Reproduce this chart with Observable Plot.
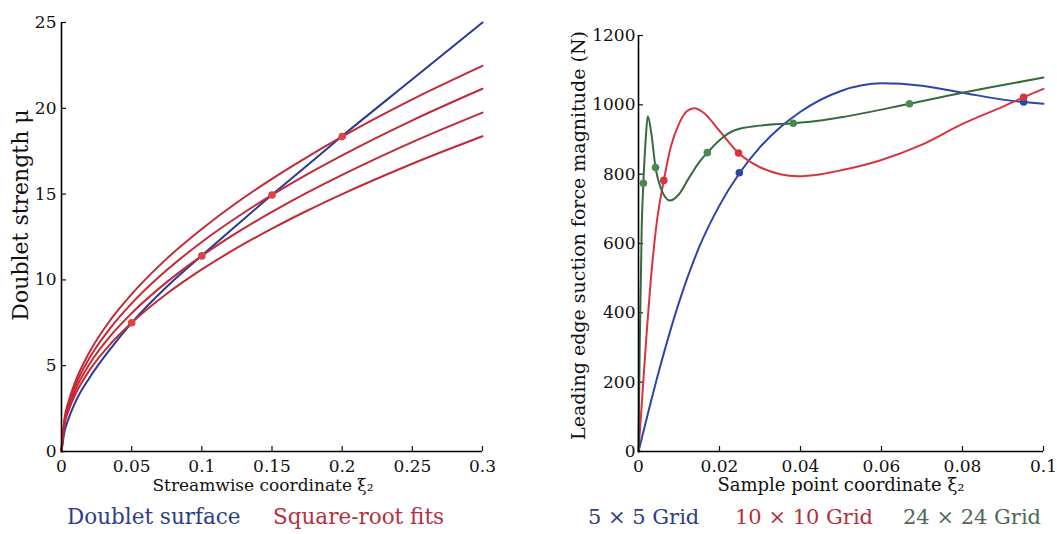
<!DOCTYPE html>
<html><head><meta charset="utf-8">
<script src="https://cdn.jsdelivr.net/npm/d3@7"></script>
<script src="https://cdn.jsdelivr.net/npm/@observablehq/plot@0.6"></script>
<style>
body{margin:0;background:#fff;}
#wrap{position:relative;width:1057px;height:534px;overflow:hidden;font-family:"DejaVu Serif",serif;background:#fff;}
.panel{position:absolute;top:0;}
.legend{position:absolute;top:504px;font-size:21px;white-space:nowrap;line-height:26px;}
</style></head><body><div id="wrap"></div>
<script>
// ---------- Left panel data ----------
const leftX = [0, 0.002, 0.005, 0.01, 0.02, 0.035, 0.05, 0.075, 0.1, 0.125, 0.15, 0.175, 0.2, 0.25, 0.3];
const doubletSurface = [0, 1.1, 1.9, 2.9, 4.3, 6.0, 7.5, 9.6, 11.42, 13.2, 14.96, 16.67, 18.38, 21.69, 25.0];
const fit1 = [0, 1.50, 2.37, 3.35, 4.74, 6.28, 7.50, 9.19, 10.61, 11.86, 12.99, 14.03, 15.0, 16.77, 18.37];
const fit2 = [0, 1.61, 2.55, 3.61, 5.10, 6.75, 8.06, 9.87, 11.40, 12.75, 13.96, 15.08, 16.12, 18.03, 19.75];
const fit3 = [0, 1.73, 2.73, 3.86, 5.46, 7.22, 8.63, 10.57, 12.21, 13.65, 14.95, 16.15, 17.26, 19.30, 21.14];
const fit4 = [0, 1.83, 2.90, 4.10, 5.80, 7.68, 9.17, 11.24, 12.97, 14.51, 15.89, 17.16, 18.35, 20.52, 22.47];
const fitPointX = [0.05, 0.1, 0.15, 0.2];
const fitPointY = [7.5, 11.4, 14.95, 18.35];
const leftXTicks = [0, 0.05, 0.1, 0.15, 0.2, 0.25, 0.3];
const leftXTickLabels = ["0", "0.05", "0.1", "0.15", "0.2", "0.25", "0.3"];
const leftYTicks = [0, 5, 10, 15, 20, 25];
const leftYTickLabels = ["0", "5", "10", "15", "20", "25"];

// ---------- Right panel data ----------
const grid5X = [0, 0.005, 0.01, 0.015, 0.02, 0.025, 0.03, 0.035, 0.04, 0.05, 0.06, 0.07, 0.08, 0.09, 0.095, 0.1];
const grid5Y = [0, 230, 430, 590, 710, 804, 878, 935, 980, 1040, 1062, 1055, 1035, 1015, 1008, 1003];
const grid10X = [0, 0.001, 0.002, 0.003, 0.0045, 0.00625, 0.008, 0.01, 0.012, 0.0138, 0.016, 0.02, 0.0247, 0.03, 0.035, 0.0392, 0.045, 0.05, 0.06, 0.07, 0.08, 0.09, 0.0951, 0.1];
const grid10Y = [0, 170, 340, 490, 660, 782, 880, 945, 982, 990, 978, 925, 861, 820, 800, 794, 800, 811, 841, 885, 945, 995, 1022, 1046];
const grid24X = [0, 0.0003, 0.0008, 0.0012, 0.0018, 0.0023, 0.0032, 0.0042, 0.0055, 0.0078, 0.01, 0.0125, 0.015, 0.017, 0.02, 0.0236, 0.03, 0.0382, 0.045, 0.05, 0.0669, 0.08, 0.09, 0.1];
const grid24Y = [0, 300, 650, 774, 905, 967, 915, 819, 760, 724, 742, 790, 835, 862, 898, 926, 940, 947, 955, 964, 1003, 1035, 1057, 1079];
const pts5X = [0.0249, 0.0951];
const pts5Y = [804, 1008];
const pts10X = [0.00625, 0.0247, 0.0951];
const pts10Y = [782, 861, 1022];
const pts24X = [0.0012, 0.0042, 0.017, 0.0382, 0.0669];
const pts24Y = [774, 819, 862, 947, 1003];
const rightXTicks = [0, 0.02, 0.04, 0.06, 0.08, 0.1];
const rightXTickLabels = ["0", "0.02", "0.04", "0.06", "0.08", "0.1"];
const rightYTicks = [0, 200, 400, 600, 800, 1000, 1200];
const rightYTickLabels = ["0", "200", "400", "600", "800", "1000", "1200"];

const leftLegend = ["Doublet surface", "Square-root fits"];
const rightLegend = ["5 × 5 Grid", "10 × 10 Grid", "24 × 24 Grid"];

// colours
const cBlueL = "#2a3a92", cRedL = "#c22a36";
const cBlue = "#2a46a6", cRed = "#d8343f", cGreen = "#356b3d";

const toRows = (xs, ys) => xs.map((x, i) => ({x, y: ys[i]}));
const font = "DejaVu Serif";

const left = Plot.plot({
  width: 520, height: 500,
  marginLeft: 61, marginRight: 38, marginTop: 22, marginBottom: 49,
  style: {fontFamily: font, fontSize: "17px", color: "#111", background: "transparent", overflow: "visible"},
  x: {domain: [0, 0.3]},
  y: {domain: [0, 25]},
  marks: [
    Plot.axisX({ticks: leftXTicks, tickFormat: (d, i) => leftXTickLabels[i], tickSize: -5, tickPadding: 13, label: null, strokeWidth: 1.2}),
    Plot.axisY({ticks: leftYTicks, tickFormat: (d, i) => leftYTickLabels[i], tickSize: -5, tickPadding: 10, label: null, strokeWidth: 1.2}),
    Plot.text(["Streamwise coordinate ξ₂"], {frameAnchor: "bottom", lineAnchor: "top", dy: 27, dx: -9, fontSize: 17}),
    Plot.text(["Doublet strength μ"], {frameAnchor: "left", textAnchor: "middle", rotate: -90, dx: -41, dy: -22, fontSize: 22}),
    Plot.line(toRows(leftX, doubletSurface), {x: "x", y: "y", stroke: cBlueL, strokeWidth: 2, curve: "monotone-x"}),
    Plot.line(toRows(leftX, fit1), {x: "x", y: "y", stroke: cRedL, strokeWidth: 2, curve: "monotone-x"}),
    Plot.line(toRows(leftX, fit2), {x: "x", y: "y", stroke: cRedL, strokeWidth: 2, curve: "monotone-x"}),
    Plot.line(toRows(leftX, fit3), {x: "x", y: "y", stroke: cRedL, strokeWidth: 2, curve: "monotone-x"}),
    Plot.line(toRows(leftX, fit4), {x: "x", y: "y", stroke: cRedL, strokeWidth: 2, curve: "monotone-x"}),
    Plot.dot(toRows(fitPointX, fitPointY), {x: "x", y: "y", r: 3.8, fill: "#d8444a", stroke: "none"}),
    Plot.ruleY([0], {stroke: "#000", strokeWidth: 1.6}),
    Plot.ruleX([0], {stroke: "#000", strokeWidth: 1.6})
  ]
});

const right = Plot.plot({
  width: 529, height: 500,
  marginLeft: 110, marginRight: 14, marginTop: 35, marginBottom: 49,
  style: {fontFamily: font, fontSize: "17px", color: "#111", background: "transparent", overflow: "visible"},
  x: {domain: [0, 0.1]},
  y: {domain: [0, 1200]},
  marks: [
    Plot.axisX({ticks: rightXTicks, tickFormat: (d, i) => rightXTickLabels[i], tickSize: -5, tickPadding: 13, label: null, strokeWidth: 1.2}),
    Plot.axisY({ticks: rightYTicks, tickFormat: (d, i) => rightYTickLabels[i], tickSize: -5, tickPadding: 8, label: null, strokeWidth: 1.2}),
    Plot.text(["Sample point coordinate ξ₂"], {frameAnchor: "bottom", lineAnchor: "top", dy: 27, fontSize: 18}),
    Plot.text(["Leading edge suction force magnitude (N)"], {frameAnchor: "left", textAnchor: "middle", rotate: -90, dx: -60, dy: -8, fontSize: 19}),
    Plot.line(toRows(grid5X, grid5Y), {x: "x", y: "y", stroke: cBlue, strokeWidth: 2, curve: "monotone-x"}),
    Plot.line(toRows(grid10X, grid10Y), {x: "x", y: "y", stroke: cRed, strokeWidth: 2, curve: "monotone-x"}),
    Plot.line(toRows(grid24X, grid24Y), {x: "x", y: "y", stroke: cGreen, strokeWidth: 2, curve: "monotone-x"}),
    Plot.dot(toRows(pts5X, pts5Y), {x: "x", y: "y", r: 3.8, fill: cBlue, stroke: "none"}),
    Plot.dot(toRows(pts10X, pts10Y), {x: "x", y: "y", r: 3.8, fill: cRed, stroke: "none"}),
    Plot.dot(toRows(pts24X, pts24Y), {x: "x", y: "y", r: 3.8, fill: "#4a8a52", stroke: "none"}),
    Plot.ruleY([0], {stroke: "#000", strokeWidth: 1.6}),
    Plot.ruleX([0], {stroke: "#000", strokeWidth: 1.6})
  ]
});

const wrap = document.getElementById("wrap");
left.classList.add("panel"); left.style.left = "0px";
right.classList.add("panel"); right.style.left = "528px";
wrap.appendChild(left);
wrap.appendChild(right);

function addLegend(text, x, color, size) {
  const d = document.createElement("div");
  d.className = "legend";
  d.style.left = x + "px";
  d.style.color = color;
  d.style.fontSize = size + "px";
  d.textContent = text;
  wrap.appendChild(d);
}
addLegend(leftLegend[0], 67, "#2e3d86", 21.5);
addLegend(leftLegend[1], 273, "#b3303e", 21.5);
addLegend(rightLegend[0], 588, "#2e3d86", 21);
addLegend(rightLegend[1], 735, "#b3303e", 21);
addLegend(rightLegend[2], 903, "#4f6a56", 21);
</script></body></html>
